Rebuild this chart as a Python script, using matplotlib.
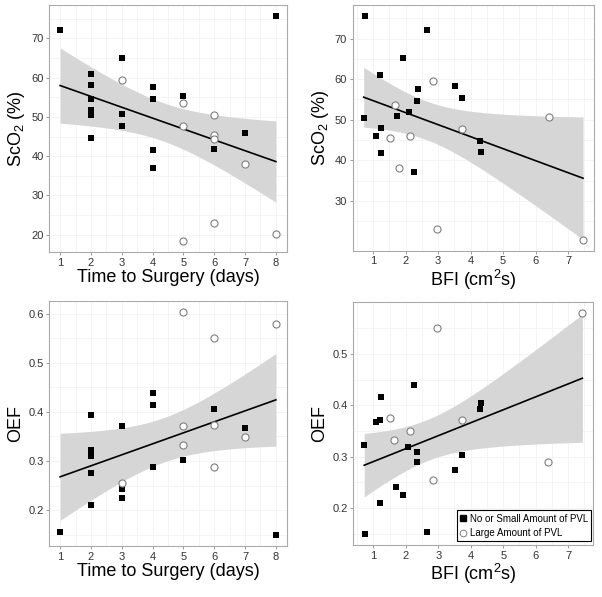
import math
import numpy as np
import matplotlib
matplotlib.use("Agg")
import matplotlib.pyplot as plt
from matplotlib.lines import Line2D

plt.rcParams['font.family'] = ['Liberation Sans', 'DejaVu Sans']
plt.rcParams['mathtext.default'] = 'regular'

# ---- data ----
# Time to surgery vs ScO2
t_sco2_sq_x = [1, 8, 3, 2, 2, 2, 2, 2, 2, 3, 3, 4, 4, 4, 4, 5, 6, 7]
t_sco2_sq_y = [72.0, 75.6, 65.1, 60.9, 58.2, 54.6, 51.8, 50.5, 44.7, 50.8, 47.6,
               57.5, 54.5, 41.6, 37.0, 55.3, 41.9, 45.9]
t_sco2_ci_x = [3, 5, 5, 5, 6, 6, 6, 6, 7, 8]
t_sco2_ci_y = [59.5, 53.5, 47.6, 18.4, 50.6, 45.5, 44.4, 22.9, 38.0, 20.3]

# BFI vs ScO2
b_sco2_sq_x = [0.76, 2.66, 1.91, 1.21, 2.37, 3.52, 3.73, 2.35, 0.71, 1.73, 2.09,
               1.23, 1.08, 1.25, 2.25, 4.30, 4.33]
b_sco2_sq_y = [75.5, 72.1, 65.2, 61.0, 57.5, 58.4, 55.4, 54.7, 50.5, 50.9, 51.9,
               47.9, 45.9, 41.8, 37.2, 44.8, 42.1]
b_sco2_ci_x = [1.67, 1.53, 2.15, 1.79, 2.84, 3.73, 2.97, 6.42, 7.46]
b_sco2_ci_y = [53.6, 45.5, 46.1, 38.2, 59.6, 47.8, 23.1, 50.8, 20.5]

# Time to surgery vs OEF
t_oef_sq_x = [1, 2, 2, 2, 2, 2, 3, 3, 3, 4, 4, 4, 5, 6, 7, 8]
t_oef_sq_y = [0.155, 0.393, 0.322, 0.311, 0.276, 0.210, 0.371, 0.243, 0.225,
              0.439, 0.415, 0.288, 0.303, 0.405, 0.367, 0.149]
t_oef_ci_x = [3, 5, 5, 5, 6, 6, 6, 7, 8]
t_oef_ci_y = [0.256, 0.603, 0.371, 0.333, 0.550, 0.374, 0.288, 0.349, 0.579]

# BFI vs OEF
b_oef_sq_x = [0.72, 0.74, 1.23, 1.08, 1.22, 1.20, 1.70, 1.90, 2.24, 2.06, 2.34,
              2.35, 2.64, 3.51, 3.72, 4.30, 4.33]
b_oef_sq_y = [0.322, 0.149, 0.416, 0.368, 0.371, 0.210, 0.241, 0.225, 0.439,
              0.319, 0.310, 0.289, 0.154, 0.275, 0.303, 0.394, 0.405]
b_oef_ci_x = [1.51, 1.65, 2.13, 2.96, 2.83, 3.72, 6.39, 7.44]
b_oef_ci_y = [0.376, 0.333, 0.350, 0.551, 0.255, 0.372, 0.289, 0.580]

group_labels = ["No or Small Amount of PVL", "Large Amount of PVL"]


def t_ppf(p, df):
    # Student t quantile from a numerically integrated pdf
    c = math.gamma((df + 1) / 2) / (math.sqrt(df * math.pi) * math.gamma(df / 2))
    grid = np.linspace(0, 10, 20001)
    pdf = c * (1 + grid ** 2 / df) ** (-(df + 1) / 2)
    cdf = 0.5 + np.concatenate([[0], np.cumsum((pdf[1:] + pdf[:-1]) / 2 * np.diff(grid))])
    return float(np.interp(p, cdf, grid))


def lm_band(x, y, n_pts=80):
    # least squares line with 95% confidence band
    x = np.asarray(x, float)
    y = np.asarray(y, float)
    n = len(x)
    b1, b0 = np.polyfit(x, y, 1)
    resid = y - (b0 + b1 * x)
    s = np.sqrt(np.sum(resid ** 2) / (n - 2))
    xs = np.linspace(x.min(), x.max(), n_pts)
    se = s * np.sqrt(1 / n + (xs - x.mean()) ** 2 / np.sum((x - x.mean()) ** 2))
    t = t_ppf(0.975, n - 2)
    fit = b0 + b1 * xs
    return xs, fit, fit - t * se, fit + t * se


def panel(ax, sq_x, sq_y, ci_x, ci_y, xlabel, ylabel):
    all_x = list(sq_x) + list(ci_x)
    all_y = list(sq_y) + list(ci_y)
    xs, fit, lo, hi = lm_band(all_x, all_y)
    ax.fill_between(xs, lo, hi, color='#d6d6d6', lw=0, zorder=1)
    ax.plot(xs, fit, color='black', lw=1.2, zorder=2)
    ax.scatter(sq_x, sq_y, marker='s', s=24, color='black', lw=0, zorder=3)
    ax.scatter(ci_x, ci_y, marker='o', s=26, facecolor='white',
               edgecolor='#7f7f7f', lw=0.8, zorder=4)
    ax.set_xlabel(xlabel, fontsize=13, labelpad=1)
    ax.set_ylabel(ylabel, fontsize=13, labelpad=3)
    ax.tick_params(labelsize=8, length=2, width=0.6, color='#888888',
                   labelcolor='#333333', pad=2)
    for sp in ax.spines.values():
        sp.set_color('#aaaaaa')
        sp.set_linewidth(0.8)
    ax.tick_params(which='minor', length=0)
    ax.grid(True, which='both', color='#f3f3f3', lw=0.6)
    ax.set_axisbelow(True)


fig = plt.figure(figsize=(6.02, 5.97), dpi=100)
ax1 = fig.add_axes([0.0819, 0.5774, 0.3943, 0.4142])
ax2 = fig.add_axes([0.5859, 0.5800, 0.4008, 0.4116])
ax3 = fig.add_axes([0.0819, 0.0849, 0.3943, 0.4109])
ax4 = fig.add_axes([0.5869, 0.0866, 0.3986, 0.4075])

panel(ax1, t_sco2_sq_x, t_sco2_sq_y, t_sco2_ci_x, t_sco2_ci_y,
      "Time to Surgery (days)", "ScO$_2$ (%)")
panel(ax2, b_sco2_sq_x, b_sco2_sq_y, b_sco2_ci_x, b_sco2_ci_y,
      "BFI (cm$^2$s)", "ScO$_2$ (%)")
panel(ax3, t_oef_sq_x, t_oef_sq_y, t_oef_ci_x, t_oef_ci_y,
      "Time to Surgery (days)", "OEF")
panel(ax4, b_oef_sq_x, b_oef_sq_y, b_oef_ci_x, b_oef_ci_y,
      "BFI (cm$^2$s)", "OEF")

# major ticks plus minor grid halfway between them
for ax in (ax1, ax3):
    ax.set_xticks(range(1, 9))
    ax.set_xticks(np.arange(1.5, 8, 1), minor=True)
ax1.set_yticks([20, 30, 40, 50, 60, 70])
ax1.set_yticks([25, 35, 45, 55, 65, 75], minor=True)
ax2.set_xticks(range(1, 8))
ax2.set_xticks(np.arange(0.5, 8, 1), minor=True)
ax2.set_yticks([30, 40, 50, 60, 70])
ax2.set_yticks([25, 35, 45, 55, 65, 75], minor=True)
ax3.set_yticks([0.2, 0.3, 0.4, 0.5, 0.6])
ax3.set_yticks([0.15, 0.25, 0.35, 0.45, 0.55], minor=True)
ax4.set_xticks(range(1, 8))
ax4.set_xticks(np.arange(0.5, 8, 1), minor=True)
ax4.set_yticks([0.2, 0.3, 0.4, 0.5])
ax4.set_yticks([0.15, 0.25, 0.35, 0.45, 0.55], minor=True)

handles = [
    Line2D([], [], marker='s', color='black', ls='none', markersize=4.2),
    Line2D([], [], marker='o', markerfacecolor='white', markeredgecolor='#7f7f7f',
           ls='none', markersize=4.8, markeredgewidth=0.7),
]
leg = ax4.legend(handles, group_labels, loc='lower right',
                 bbox_to_anchor=(0.992, 0.016), borderaxespad=0, fontsize=7,
                 fancybox=False, framealpha=1, edgecolor='black',
                 handlelength=0.7, handletextpad=0.3, borderpad=0.35,
                 labelspacing=0.45)
leg.get_frame().set_linewidth(0.8)

fig.savefig("out.png", dpi=100)
